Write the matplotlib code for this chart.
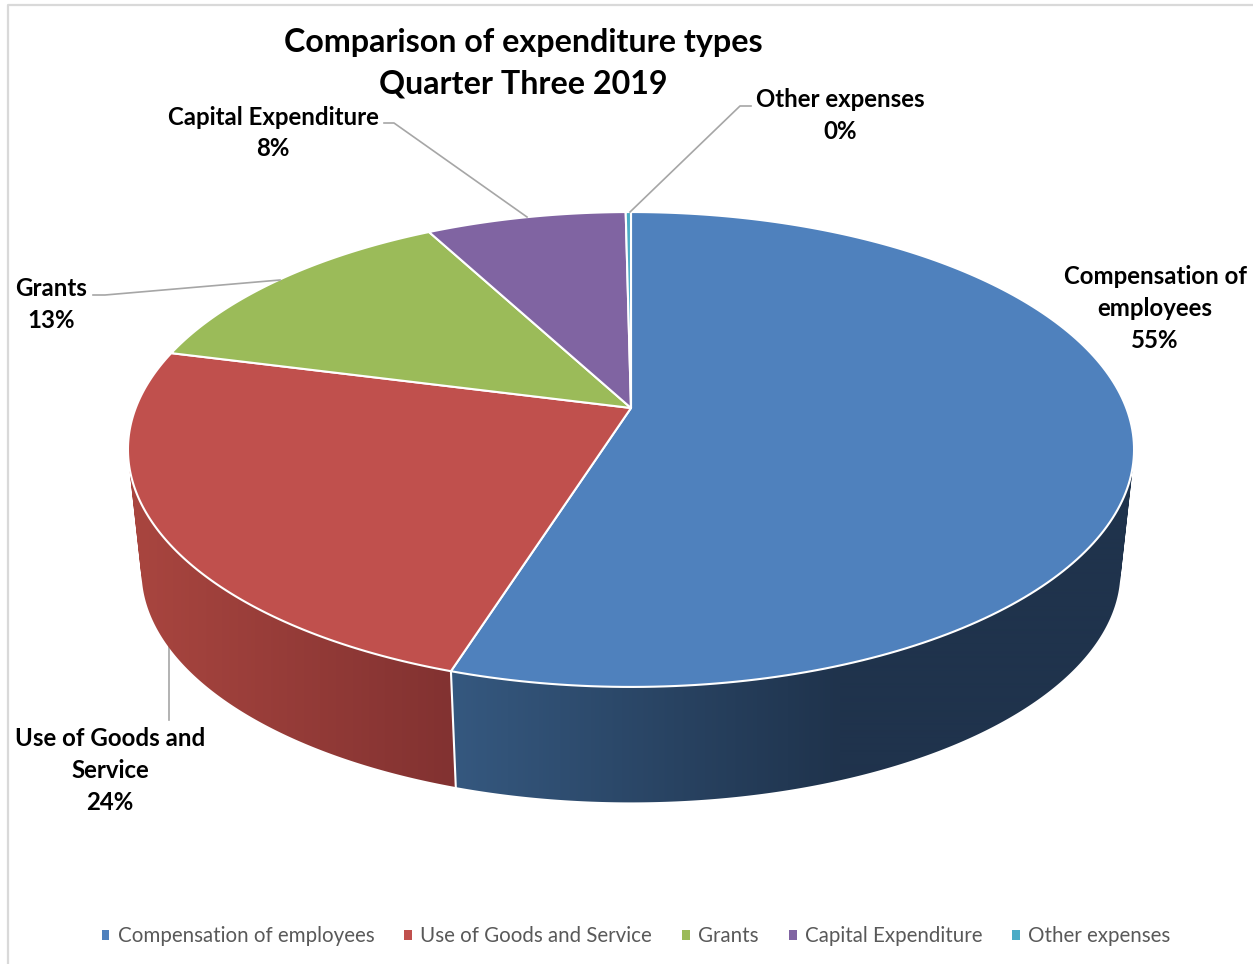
import numpy as np
import matplotlib
matplotlib.use('Agg')
import matplotlib.pyplot as plt
from matplotlib.colors import to_rgb
from matplotlib.patches import Patch, Polygon
from matplotlib.path import Path

# Data
categories = ['Compensation of employees', 'Use of Goods and Service', 'Grants',
              'Capital Expenditure', 'Other expenses']
shares = [54.9, 24.1, 13.2, 7.6, 0.2]
colors = ['#4f81bd', '#c0504d', '#9bbb59', '#8064a2', '#4bacc6']
title_lines = 'Comparison of expenditure types\nQuarter Three 2019'

# wrapped text of the data labels
label_names = ['Compensation of\nemployees', 'Use of Goods and\nService', 'Grants',
               'Capital Expenditure', 'Other expenses']
label_xy = [(1155, 308.5), (110, 770.5), (51, 304.5), (273, 133), (840, 115.5)]
leaders = [None,
           [(169, 638), (169, 720)],
           [(93, 295), (105, 295), (280, 280)],
           [(384, 123), (394, 123), (527, 217)],
           [(751, 106), (740, 106), (630, 212)]]

# perspective of the disc, in pixels of the picture
CX = 631
TOP_Y, BOTTOM_Y = 408, 531
A, B, K = 495.3, 230.2, 0.1747
BOTTOM_SCALE = 0.973

plt.rcParams['font.family'] = ['Lato', 'DejaVu Sans']


def project(theta, y0, scale=1.0):
    # theta in degrees, clockwise from the top of the disc
    t = np.radians(theta)
    w = 1 + K * np.cos(t)
    return CX + scale * A * np.sin(t) / w, y0 - scale * B * np.cos(t) / w


def draw_wall(ax, start, end, x0, x1, c0, c1):
    # horizontal gradient, clipped to the strip between the two rims
    thetas = np.linspace(start, end, 300)
    tx, ty = project(thetas, TOP_Y)
    bx, by = project(thetas, BOTTOM_Y, BOTTOM_SCALE)
    quads = []
    for i in range(len(thetas) - 1):
        pts = [(tx[i], ty[i]), (tx[i + 1], ty[i + 1]), (bx[i + 1], by[i + 1]), (bx[i], by[i])]
        # same winding for all, or overlapping strips cancel out in the clip
        px, py = zip(*pts)
        area = np.dot(px, np.roll(py, 1)) - np.dot(py, np.roll(px, 1))
        if area < 0:
            pts = pts[::-1]
        quads.append(Path(pts + [pts[0]], closed=True))
    xs = np.arange(100, 1150)
    f = np.clip((xs - x0) / (x1 - x0), 0, 1)[None, :, None]
    grad = np.array(to_rgb(c0))[None, None, :] * (1 - f) + np.array(to_rgb(c1))[None, None, :] * f
    im = ax.imshow(grad, extent=(100, 1150, 830, 400), aspect='auto', interpolation='bilinear', zorder=2)
    im.set_clip_path(Path.make_compound_path(*quads), transform=ax.transData)


fig = plt.figure(figsize=(12.53, 9.64), dpi=100)
ax = fig.add_axes([0, 0, 1, 1])
ax.axis('off')

# chart frame, cut off on the right and at the bottom
ax.plot([8, 8, 1253], [964, 5, 5], color='#d9d9d9', lw=1.6, zorder=1)

edges = np.cumsum([0] + shares) / sum(shares) * 360

# side walls, only the two front slices show one
draw_wall(ax, 60, edges[1], 455, 840, '#35587f', '#1f334c')
draw_wall(ax, edges[1], edges[2], 140, 450, '#a8453f', '#823231')
bx, by = project(edges[1], BOTTOM_Y, BOTTOM_SCALE)
tx, ty = project(edges[1], TOP_Y)
ax.plot([tx, bx], [ty, by], color='white', lw=1.5, zorder=3)

# top of the pie
for i, color in enumerate(colors):
    thetas = np.linspace(edges[i], edges[i + 1], 200)
    x, y = project(thetas, TOP_Y)
    pts = [(CX, TOP_Y)] + list(zip(x, y))
    ax.add_patch(Polygon(pts, closed=True, facecolor=color, edgecolor='white', lw=1.5,
                         joinstyle='round', zorder=4))

# data labels and leader lines
for i, name in enumerate(label_names):
    txt = '%s\n%.0f%%' % (name, shares[i])
    ax.text(label_xy[i][0], label_xy[i][1], txt, ha='center', va='center', fontsize=17.3,
            fontweight='bold', color='black', linespacing=1.47, zorder=6)
    if leaders[i] is not None:
        xs, ys = zip(*leaders[i])
        ax.plot(xs, ys, color='#a6a6a6', lw=1.2, zorder=1.5 if i == 1 else 5)

ax.text(523.5, 63.5, title_lines, ha='center', va='center', fontsize=23.2, fontweight='bold',
        color='black', linespacing=1.52, zorder=6)

handles = [Patch(facecolor=c, edgecolor='none', label=n) for c, n in zip(colors, categories)]
ax.legend(handles=handles, loc='center', bbox_to_anchor=(636 / 1253, 1 - 936 / 964), ncol=5,
          frameon=False, fontsize=14.8, labelcolor='#595959', handlelength=0.38, handleheight=0.38,
          handletextpad=0.39, columnspacing=1.47, borderpad=0)

ax.set_xlim(0, 1253)
ax.set_ylim(964, 0)

fig.savefig('out.png', dpi=100, facecolor='white')
